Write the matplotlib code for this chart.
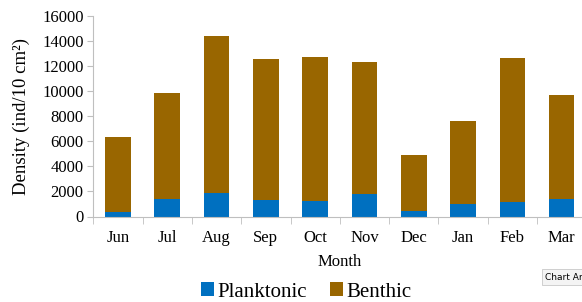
import numpy as np
import matplotlib
matplotlib.use("Agg")
import matplotlib.pyplot as plt

months = ["Jun", "Jul", "Aug", "Sep", "Oct", "Nov", "Dec", "Jan", "Feb", "Mar"]
planktonic = [340, 1400, 1880, 1320, 1220, 1830, 450, 1000, 1190, 1430]
totals = [6310, 9870, 14350, 12520, 12710, 12290, 4860, 7610, 12630, 9710]
benthic = [t - p for t, p in zip(totals, planktonic)]

plt.rcParams["font.family"] = ["Liberation Serif", "DejaVu Serif"]

fig = plt.figure(figsize=(5.82, 3.02), dpi=100)
# axes spans a bit past the right edge, like the cropped screenshot
ax = fig.add_axes([93.3 / 582, 1 - 216.5 / 302, 493 / 582, 201 / 302])

x = np.arange(len(months))
ax.bar(x, planktonic, 0.52, color="#0070c0", label="Planktonic", zorder=2)
ax.bar(x, benthic, 0.52, bottom=planktonic, color="#996600", label="Benthic", zorder=2)

ax.set_xlim(-0.5, len(months) - 0.5)
ax.set_ylim(0, 16000)
ax.set_yticks(np.arange(0, 16001, 2000))
ax.tick_params(axis="y", labelsize=12, length=4, color="#bfbfbf", pad=3)

ax.set_xticks(x)
ax.set_xticklabels(months)
ax.set_xticks(np.arange(-0.5, len(months), 1), minor=True)
ax.tick_params(axis="x", which="major", length=0, labelsize=12, pad=10)
ax.tick_params(axis="x", which="minor", length=5, color="#bfbfbf")

for s in ["top", "right"]:
    ax.spines[s].set_visible(False)
ax.spines["left"].set_color("#bfbfbf")
ax.spines["bottom"].set_color("#bfbfbf")

ax.set_ylabel("Density (ind/10 cm\u00b2)", fontsize=13.5, labelpad=9)
fig.text(340 / 582, 1 - 262 / 302, "Month", ha="center", va="center", fontsize=12)

handles, labels = ax.get_legend_handles_labels()
leg = fig.legend(handles, labels, loc="center", bbox_to_anchor=(306 / 582, 1 - 292 / 302),
                 ncol=2, frameon=False, fontsize=15,
                 handlelength=0.65, handleheight=0.65, handletextpad=0.15, columnspacing=1.1)

fig.text(545 / 582, 1 - 277 / 302, "Chart Area", fontsize=6.5, family="DejaVu Sans",
         ha="left", va="center",
         bbox=dict(boxstyle="square,pad=0.35", fc="#f4f4f4", ec="#c8c8c8", lw=0.6))

fig.savefig("out.png", dpi=100)
